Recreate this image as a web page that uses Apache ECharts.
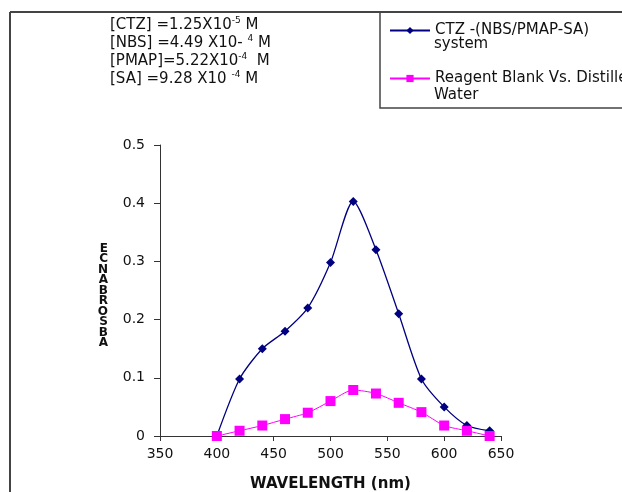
<!DOCTYPE html>
<html><head><meta charset="utf-8">
<script src="https://cdn.jsdelivr.net/npm/echarts@6/dist/echarts.min.js"></script>
<style>html,body{margin:0;padding:0;background:#fff}#c{width:622px;height:492px}</style>
</head><body><div id="c"></div>
<script>
var wavelengths = [400,420,440,460,480,500,520,540,560,580,600,620,640];
var ctzValues   = [0,0.098,0.15,0.18,0.22,0.298,0.403,0.32,0.21,0.098,0.05,0.018,0.009];
var blankValues = [0,0.009,0.018,0.029,0.04,0.06,0.079,0.073,0.057,0.041,0.018,0.009,0];
var seriesNames = ['CTZ -(NBS/PMAP-SA)', 'Reagent Blank Vs. Distilled'];
var seriesNames2 = ['system', 'Water'];
var xTicks = [350,400,450,500,550,600,650];
var yTicks = [0,0.1,0.2,0.3,0.4,0.5];

function pairs(xs, ys){ return xs.map(function(x,i){return [x, ys[i]];}); }
var F = '"DejaVu Sans", Verdana, sans-serif';
var chart = echarts.init(document.getElementById('c'));
var sup = {fontSize: 9, verticalAlign: 'top', padding:[0,0,7,0], fontFamily: F, color:'#111'};
chart.setOption({
  animation: false,
  backgroundColor: '#fff',
  textStyle: {fontFamily: F},
  grid: {left: 160, right: 121, top: 145, bottom: 56, containLabel: false, outerBoundsMode: 'none'},
  xAxis: {
    type: 'value', min: 350, max: 650, interval: 50,
    name: 'WAVELENGTH (nm)', nameLocation: 'middle', nameGap: 41,
    nameTextStyle: {fontSize: 15, fontWeight: 'bold', color: '#111', fontFamily: F, verticalAlign: 'top'},
    axisLine: {lineStyle: {color: '#333', width: 1}},
    axisTick: {show: true, length: 5, lineStyle: {color: '#333'}},
    axisLabel: {fontSize: 14, color: '#111', margin: 11, fontFamily: F},
    splitLine: {show: false}
  },
  yAxis: {
    type: 'value', min: 0, max: 0.5, interval: 0.1,
    name: ' \nE\nC\nN\nA\nB\nR\nO\nS\nB\nA', nameLocation: 'middle', nameRotate: 0, nameGap: 52,
    nameTextStyle: {fontSize: 12, fontWeight: 'bold', color: '#111', lineHeight: 10.5, fontFamily: F},
    axisLine: {show: true, lineStyle: {color: '#333', width: 1}},
    axisTick: {show: true, length: 6, lineStyle: {color: '#333'}},
    axisLabel: {fontSize: 14, color: '#111', margin: 15, fontFamily: F,
      formatter: function(v){ return v === 0 ? '0' : v.toFixed(1); }},
    splitLine: {show: false}
  },
  legend: {
    orient: 'vertical', left: 389, top: 23, padding: 0, itemWidth: 40, itemHeight: 9, itemGap: 33,
    textStyle: {fontSize: 15, color: '#111', fontFamily: F},
    data: [{name: seriesNames[0]}, {name: seriesNames[1]}]
  },
  graphic: [
    {type: 'line', shape: {x1: 10, y1: 12, x2: 10, y2: 492}, style: {stroke: '#444', lineWidth: 2}},
    {type: 'line', shape: {x1: 10, y1: 12, x2: 622, y2: 12}, style: {stroke: '#444', lineWidth: 2}},
    {type: 'rect', shape: {x: 380, y: 12, width: 260, height: 96}, style: {fill: 'none', stroke: '#444', lineWidth: 1.5}},
    {type: 'text', left: 434, top: 37, style: {text: seriesNames2[0], fill: '#111', font: '15px ' + F}},
    {type: 'text', left: 434, top: 88, style: {text: seriesNames2[1], fill: '#111', font: '15px ' + F}},
    {type: 'text', left: 110, top: 16, style: {
      text: '[CTZ] =1.25X10{s|-5} M\n[NBS] =4.49 X10- {s|4} M\n[PMAP]=5.22X10{s|-4}  M\n[SA] =9.28 X10 {s|-4} M',
      font: '15px ' + F, fill: '#111', lineHeight: 18, rich: {s: sup}
    }}
  ],
  series: [
    {
      name: seriesNames[0], type: 'line', smooth: 0.25, data: pairs(wavelengths, ctzValues),
      symbol: 'diamond', symbolSize: 9,
      lineStyle: {color: '#000080', width: 1.3}, itemStyle: {color: '#000080'}
    },
    {
      name: seriesNames[1], type: 'line', smooth: 0.25, data: pairs(wavelengths, blankValues),
      symbol: 'rect', symbolSize: 10,
      lineStyle: {color: '#FF00FF', width: 1}, itemStyle: {color: '#FF00FF'}
    }
  ]
});
</script></body></html>
